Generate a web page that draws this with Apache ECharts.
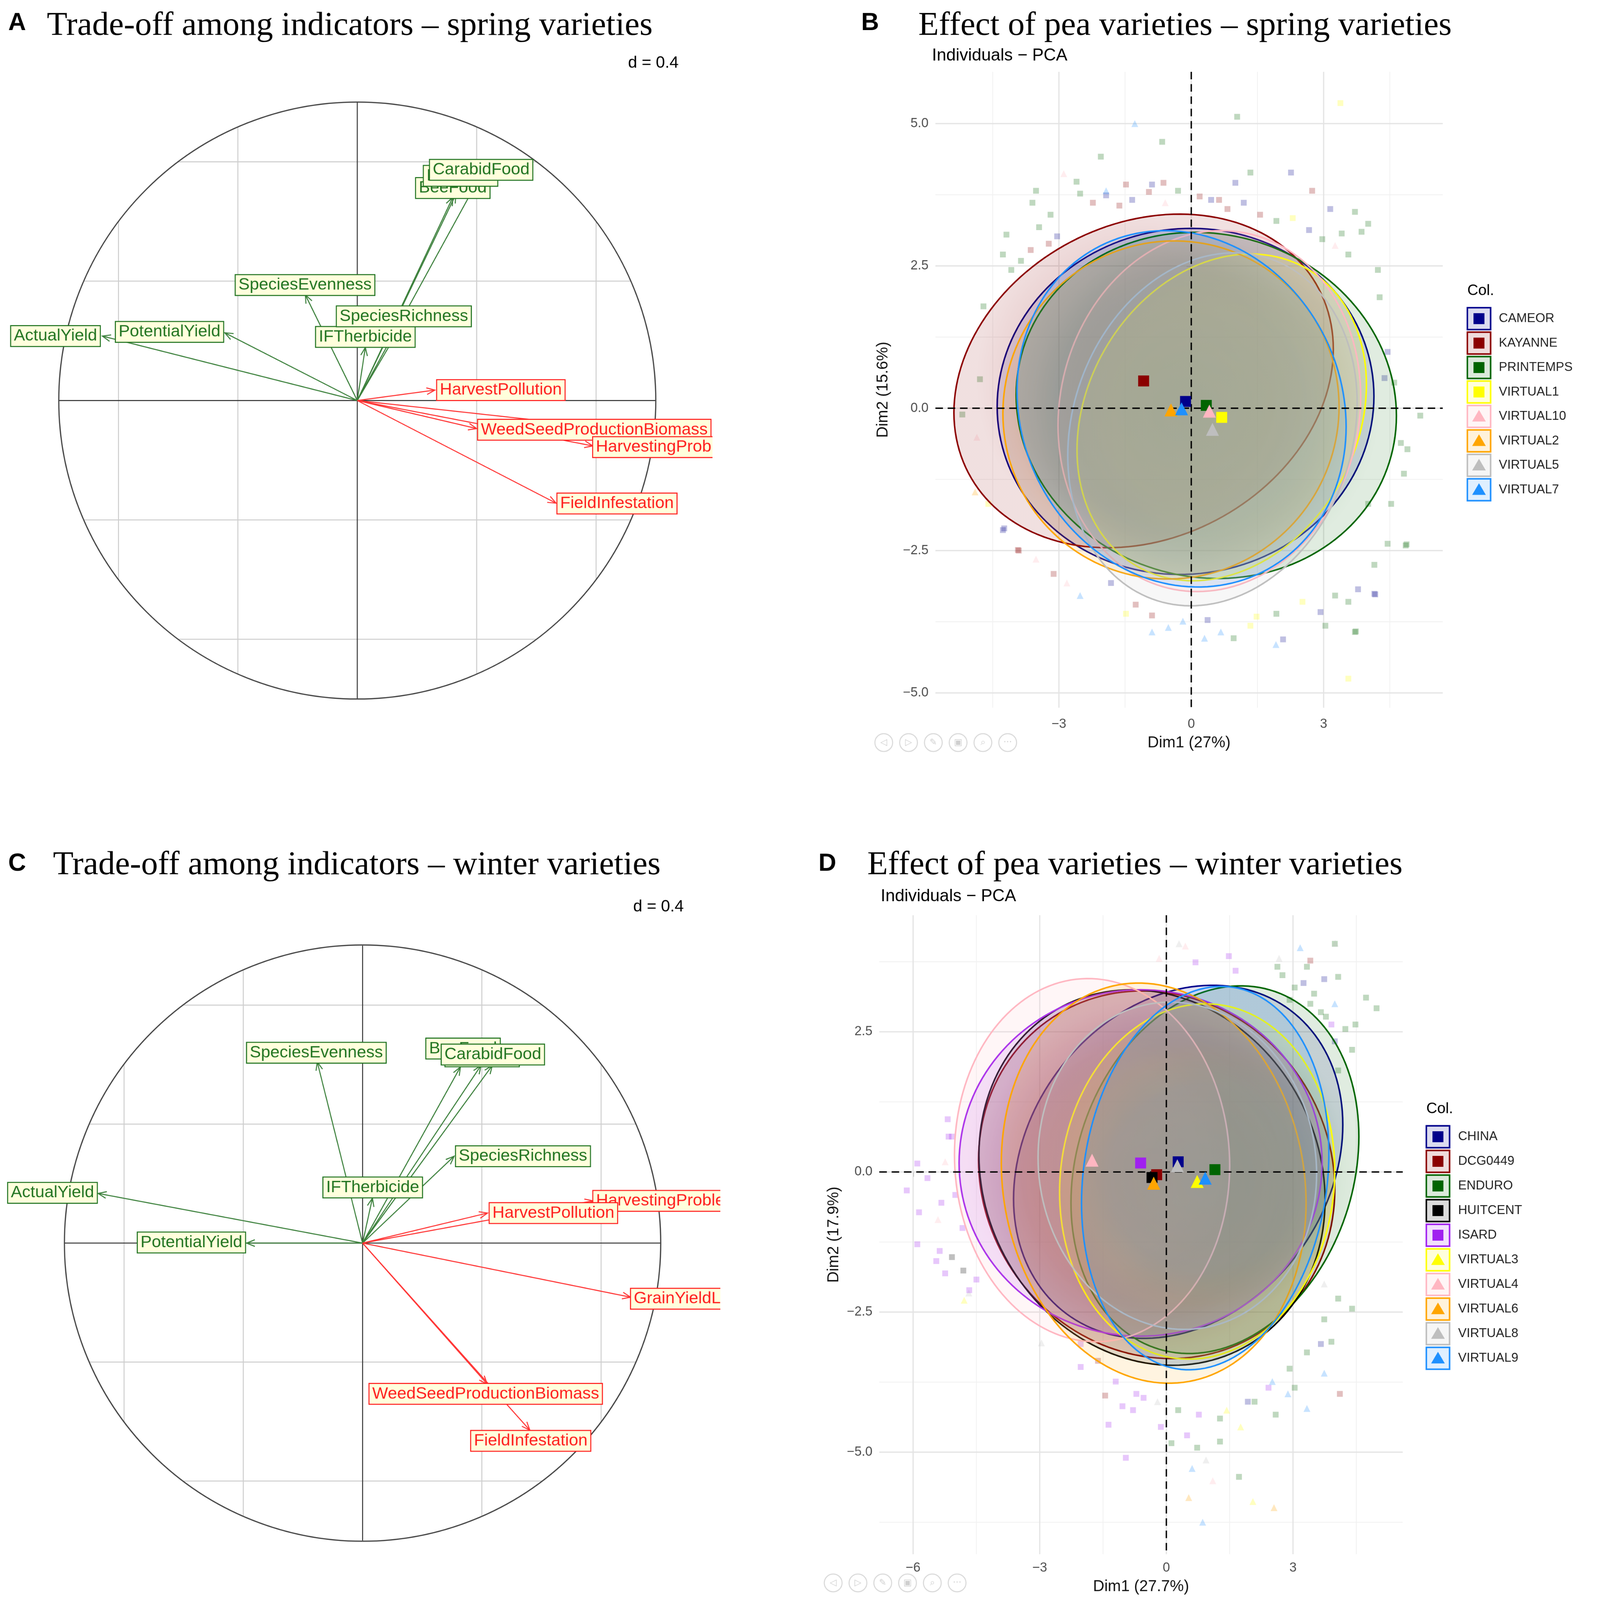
<!DOCTYPE html>
<html><head><meta charset="utf-8">
<script src="https://cdn.jsdelivr.net/npm/echarts@6/dist/echarts.min.js"></script>
<style>html,body{margin:0;padding:0;background:#fff;overflow:hidden}#c{width:4620px;height:4680px;transform-origin:0 0}</style>
</head><body><div id="c"></div>
<script>
// ================= DATA =================
// ---- Panel A: correlation circle, spring varieties ----
const varsA   = ['ActualYield','PotentialYield','SpeciesEvenness','IFTherbicide','SpeciesRichness','BeeFood','BirdFood','CarabidFood','HarvestPollution','GrainYieldLoss','WeedSeedProductionBiomass','HarvestingProblems','FieldInfestation'];
const typeA   = ['g','g','g','g','g','g','g','g','r','r','r','r','r'];
const tipXA   = [-0.854,-0.444,-0.174,0.027,0.148,0.320,0.330,0.400,0.260,0.740,0.400,0.789,0.666];
const tipYA   = [ 0.216, 0.227, 0.354,0.178,0.252,0.681,0.690,0.730,0.035,-0.081,-0.094,-0.152,-0.344];
const labXA   = [-1.011,-0.629,-0.175,0.027,0.156,0.320,0.346,0.415,0.481,0.800,0.794,1.052,0.870];
const labYA   = [ 0.216, 0.230, 0.387,0.213,0.282,0.712,0.753,0.773,0.035,-0.098,-0.098,-0.156,-0.345];

// ---- Panel C: correlation circle, winter varieties ----
const varsC   = ['ActualYield','PotentialYield','SpeciesEvenness','IFTherbicide','SpeciesRichness','BeeFood','BirdFood','CarabidFood','HarvestingProblems','HarvestPollution','GrainYieldLoss','WeedSeedProductionBiomass','FieldInfestation'];
const typeC   = ['g','g','g','g','g','g','g','g','r','r','r','r','r'];
const tipXC   = [-0.887,-0.389,-0.152,0.033,0.307,0.328,0.397,0.435,0.773,0.419,0.899,0.418,0.561];
const tipYC   = [ 0.167, 0.000, 0.609,0.151,0.292,0.592,0.597,0.597,0.142,0.101,-0.182,-0.474,-0.629];
const labXC   = [-1.040,-0.574,-0.155,0.034,0.538,0.337,0.401,0.437,1.036,0.640,1.099,0.413,0.564];
const labYC   = [ 0.169, 0.002, 0.640,0.187,0.292,0.654,0.628,0.634,0.142,0.101,-0.187,-0.507,-0.665];
const circleGrid = [-0.8,-0.4,0.4,0.8];

// ---- Panel B: individuals PCA, spring varieties ----
const groupsB = ['CAMEOR','KAYANNE','PRINTEMPS','VIRTUAL1','VIRTUAL10','VIRTUAL2','VIRTUAL5','VIRTUAL7'];
const colorsB = ['#00008B','#8B0000','#006400','#FFFF00','#FFB6C1','#FFA500','#BEBEBE','#1E90FF'];
const shapesB = ['rect','rect','rect','rect','triangle','triangle','triangle','triangle'];
const meanXB  = [-0.13,-1.08,0.34,0.69,0.41,-0.46,0.48,-0.22];
const meanYB  = [ 0.12, 0.48,0.05,-0.16,-0.05,-0.03,-0.37,-0.01];
const ellSXB  = [4.27,4.30,4.31,3.28,3.43,3.81,3.28,3.73];
const ellSYB  = [3.04,2.93,3.04,2.87,3.17,2.97,3.10,3.13];
const ellRhoB = [0.03,0.19,-0.06,0.20,0.08,0.02,0.15,-0.10];
const ptsXB = [-2.89,-2.60,-3.52,-3.60,-3.19,-1.93,-1.48,-0.89,-0.63,0.19,0.63,1.00,1.34,2.26,2.74,3.15,3.71,4.01,3.41,3.86,-4.19,-4.27,-4.08,-4.71,-4.79,-5.19,-4.86,-4.90,-4.27,-3.93,-3.52,4.27,4.38,5.19,4.90,4.45,4.86,4.01,4.15,3.56,-1.82,-1.26,-0.89,-0.52,-0.19,0.37,0.67,0.96,1.48,2.08,2.93,3.04,3.71,3.38,1.04,-1.28,-0.66,-2.05,3.56,4.88,-3.91,-4.24,4.17,3.73,1.92,
  -3.86,-3.64,-3.45,-3.23,-3.04,-2.52,-2.23,-1.93,-1.63,-1.34,-0.96,-0.59,-0.30,0.45,0.82,1.19,1.56,1.93,2.30,2.67,2.97,3.26,3.56,4.23,4.45,4.60,4.75,4.82,4.53,-4.60,-3.12,-2.82,-2.52,-1.48,-0.89,0.30,1.34,1.93,2.52,3.26,3.78,4.15];
const ptsYB = [4.12,3.98,3.82,3.61,3.40,3.74,3.93,3.93,3.96,3.72,3.66,3.96,4.14,4.14,3.82,3.50,3.45,3.24,3.07,3.10,3.05,2.70,2.43,1.79,0.51,-0.11,-0.51,-1.47,-2.14,-2.49,-2.65,1.95,0.53,-0.13,-0.72,-2.38,-2.41,-1.68,-3.26,-3.40,-3.07,-3.45,-3.64,-3.85,-3.74,-3.72,-3.93,-4.04,-3.66,-4.06,-3.58,-3.82,-3.93,5.36,5.12,5.00,4.68,4.42,-4.75,-2.39,-2.50,-2.11,-3.27,-3.92,-4.15,
  2.59,2.78,3.18,2.89,3.02,3.77,3.61,3.82,3.56,3.66,3.80,3.61,3.82,3.66,3.50,3.61,3.40,3.29,3.34,3.13,2.97,2.86,2.70,2.43,0.99,0.45,-0.61,-1.15,-1.68,-1.68,-2.91,-3.07,-3.29,-3.61,-3.93,-4.04,-3.82,-3.61,-3.40,-3.29,-3.18,-2.75];
const ptsGB = [4,2,2,2,2,0,1,0,1,1,1,0,2,0,1,0,2,2,2,2,2,2,2,2,2,2,4,5,0,1,4,2,0,2,2,2,2,2,0,2,0,1,1,7,7,0,7,2,3,0,0,2,2,3,2,7,2,2,3,2,1,0,0,2,7,
  2,1,2,1,0,2,1,7,1,0,1,4,2,0,1,0,1,2,3,0,2,4,2,2,0,2,2,2,2,3,1,4,7,3,7,7,3,2,3,2,0,2];

// ---- Panel D: individuals PCA, winter varieties ----
const groupsD = ['CHINA','DCG0449','ENDURO','HUITCENT','ISARD','VIRTUAL3','VIRTUAL4','VIRTUAL6','VIRTUAL8','VIRTUAL9'];
const colorsD = ['#00008B','#8B0000','#006400','#000000','#A020F0','#FFFF00','#FFB6C1','#FFA500','#BEBEBE','#1E90FF'];
const shapesD = ['rect','rect','rect','rect','rect','triangle','triangle','triangle','triangle','triangle'];
const meanXD  = [0.28,-0.23,1.15,-0.34,-0.61,0.73,-1.76,-0.30,0.26,0.92];
const meanYD  = [0.18,-0.05,0.04,-0.10,0.16,-0.17,0.21,-0.20,0.11,-0.11];
const ellSXD  = [3.90,4.22,3.41,4.10,4.30,3.26,3.26,3.61,3.30,2.93];
const ellSYD  = [3.15,3.28,3.28,3.35,3.09,3.17,3.24,3.57,2.92,3.42];
const ellRhoD = [0.21,-0.08,0.18,-0.12,0.00,0.06,-0.03,-0.10,-0.05,0.13];
const ptsXD = [0.30,0.45,-0.17,0.69,1.48,1.64,2.63,3.17,3.41,3.74,3.99,4.07,3.04,3.41,3.78,4.48,4.73,4.98,3.91,4.07,-5.18,-5.16,-5.90,-6.15,-5.86,-5.41,-5.90,-5.37,-5.45,-5.24,-4.81,-4.68,-4.79,-4.50,-2.96,-2.03,-1.45,-1.04,-0.79,-1.37,-0.54,-0.13,0.12,0.49,0.73,0.94,0.61,1.10,1.27,1.72,1.43,1.93,2.42,2.59,2.88,3.04,3.33,4.11,3.74,3.66,3.91,4.40,3.74,2.05,2.55,0.86,0.53,-0.96,4.00,
  2.75,2.92,3.25,3.50,3.66,3.99,4.24,4.40,2.67,3.33,3.99,-5.08,-5.24,-5.00,-4.83,-5.33,-5.66,-5.08,-4.67,-2.03,-1.62,-1.20,-0.71,-0.21,0.28,0.77,1.27,1.76,2.09,2.51,2.92,3.33,3.74,4.07];
const ptsYD = [4.07,4.03,3.81,3.74,3.85,3.59,3.66,4.00,3.77,3.44,4.07,3.48,3.29,3.00,2.77,2.63,3.11,2.92,2.63,1.81,0.94,0.63,0.15,-0.33,-0.72,-0.85,-1.29,-1.41,-1.59,-1.81,-1.76,-2.16,-2.29,-1.92,-3.05,-3.48,-3.99,-4.18,-4.25,-4.51,-4.03,-4.55,-4.84,-4.70,-4.92,-5.14,-5.29,-5.51,-4.81,-5.44,-4.25,-4.10,-3.85,-4.33,-3.96,-3.85,-4.22,-3.96,-3.59,-3.07,-3.03,-2.44,-2.00,-5.88,-5.99,-6.25,-5.81,-5.10,4.08,
  3.51,3.07,3.37,3.18,2.85,3.00,2.55,2.18,3.81,3.66,2.33,0.63,0.18,-0.41,-1.00,-0.55,-0.11,-1.52,-2.11,-3.07,-3.37,-3.74,-3.96,-4.10,-4.25,-4.33,-4.40,-4.55,-4.10,-3.74,-3.51,-3.22,-2.63,-2.26];
const ptsGD = [8,6,6,4,4,4,2,9,1,0,2,2,2,2,2,2,2,2,4,2,4,4,4,4,4,6,4,4,4,4,3,8,5,4,8,4,1,4,4,4,4,4,2,4,2,8,9,6,2,2,5,0,4,2,9,2,9,1,9,0,2,2,8,5,7,9,7,4,8,
  2,2,0,2,2,9,2,2,8,2,0,4,6,4,4,4,4,3,4,4,1,4,4,8,2,4,2,5,2,9,2,2,2,2];

// axis ticks (B, D)
const xTicksB = [-3,0,3], yTicksB = [-5,-2.5,0,2.5,5];
const xMinorB = [-4.5,-1.5,1.5,4.5], yMinorB = [-3.75,-1.25,1.25,3.75];
const xTicksD = [-6,-3,0,3], yTicksD = [-5,-2.5,0,2.5];
const xMinorD = [-4.5,-1.5,1.5,4.5], yMinorD = [-6.25,-3.75,-1.25,1.25,3.75];

// ================= STYLE =================
const SANS = 'Liberation Sans', SERIF = 'Liberation Serif';
const G_LINE = '#3B803B', G_TXT = '#237523', R_LINE = '#FF3333', R_TXT = '#FF1F1F';
function rgba(hex, a){const n=parseInt(hex.slice(1),16);return `rgba(${n>>16&255},${n>>8&255},${n&255},${a})`;}
const minus = s => String(s).replace('-', '\u2212');

// ================= SERIES BUILDERS =================
function circleFrame(ai){
  const data = circleGrid.map(v=>[v,0,0]); data.push([0,0,1]);
  return {type:'custom', coordinateSystem:'cartesian2d', xAxisIndex:ai, yAxisIndex:ai, z:1, silent:true,
    encode:{x:0,y:1}, data,
    renderItem(params, api){
      const v = api.value(0);
      if (api.value(2) === 0){
        const h = Math.sqrt(1 - v*v);
        const a1 = api.coord([v,-h]), a2 = api.coord([v,h]);
        const b1 = api.coord([-h,v]), b2 = api.coord([h,v]);
        return {type:'group', children:[
          {type:'line', shape:{x1:a1[0],y1:a1[1],x2:a2[0],y2:a2[1]}, style:{stroke:'#CFCFCF',lineWidth:3}},
          {type:'line', shape:{x1:b1[0],y1:b1[1],x2:b2[0],y2:b2[1]}, style:{stroke:'#CFCFCF',lineWidth:3}}]};
      }
      const o = api.coord([0,0]), r = api.size([1,0])[0];
      const l = api.coord([-1,0]), rr = api.coord([1,0]), t = api.coord([0,1]), b = api.coord([0,-1]);
      return {type:'group', children:[
        {type:'line', shape:{x1:l[0],y1:l[1],x2:rr[0],y2:rr[1]}, style:{stroke:'#3A3A3A',lineWidth:3}},
        {type:'line', shape:{x1:t[0],y1:t[1],x2:b[0],y2:b[1]}, style:{stroke:'#3A3A3A',lineWidth:3}},
        {type:'circle', shape:{cx:o[0],cy:o[1],r:r}, style:{stroke:'#444',lineWidth:3.5,fill:null}}]};
    }};
}
function arrowSeries(ai, names, tx, ty, tp){
  return {type:'custom', coordinateSystem:'cartesian2d', xAxisIndex:ai, yAxisIndex:ai, z:2, silent:true,
    encode:{x:0,y:1}, data: names.map((n,i)=>[tx[i],ty[i]]),
    renderItem(params, api){
      const i = params.dataIndex, col = tp[i]==='g' ? G_LINE : R_LINE;
      const o = api.coord([0,0]), t = api.coord([api.value(0),api.value(1)]);
      const ang = Math.atan2(t[1]-o[1], t[0]-o[0]), L = 26, a = 22*Math.PI/180;
      const h1=[t[0]-L*Math.cos(ang-a), t[1]-L*Math.sin(ang-a)], h2=[t[0]-L*Math.cos(ang+a), t[1]-L*Math.sin(ang+a)];
      return {type:'group', children:[
        {type:'line', shape:{x1:o[0],y1:o[1],x2:t[0],y2:t[1]}, style:{stroke:col,lineWidth:3}},
        {type:'polyline', shape:{points:[h1,t,h2]}, style:{stroke:col,lineWidth:3,fill:null}}]};
    }};
}
function labelSeries(ai, names, lx, ly, tp){
  return {type:'custom', coordinateSystem:'cartesian2d', xAxisIndex:ai, yAxisIndex:ai, z:3, silent:true, clip:true,
    encode:{x:0,y:1}, data: names.map((n,i)=>[lx[i],ly[i]]),
    renderItem(params, api){
      const i = params.dataIndex, c = tp[i]==='g' ? G_TXT : R_TXT;
      const p = api.coord([api.value(0),api.value(1)]);
      return {type:'text', x:p[0], y:p[1], style:{text:names[i], fill:c, fontSize:49, fontFamily:SANS,
        align:'center', verticalAlign:'middle', backgroundColor:'#FFFFDC', borderColor:c, borderWidth:3,
        padding:[4,8,2,8], lineHeight:52}};
    }};
}
function gridLines(ai, xs, ys, xm, ym){
  const data = [];
  xm.forEach(v=>data.push([v,0,1])); ym.forEach(v=>data.push([0,v,3]));
  xs.forEach(v=>data.push([v,0,0])); ys.forEach(v=>data.push([0,v,2]));
  return {type:'custom', coordinateSystem:'cartesian2d', xAxisIndex:ai, yAxisIndex:ai, z:1, silent:true,
    encode:{x:0,y:1}, data,
    renderItem(params, api){
      const cs = params.coordSys, k = api.value(2);
      const major = (k===0||k===2);
      const st = {stroke: major ? '#E4E4E4' : '#F1F1F1', lineWidth: major ? 3.5 : 2.2};
      if (k<2){ const x = api.coord([api.value(0),0])[0];
        return {type:'line', shape:{x1:x,y1:cs.y,x2:x,y2:cs.y+cs.height}, style:st}; }
      const y = api.coord([0,api.value(1)])[1];
      return {type:'line', shape:{x1:cs.x,y1:y,x2:cs.x+cs.width,y2:y}, style:st};
    }};
}
function dashLines(ai){
  return {type:'custom', coordinateSystem:'cartesian2d', xAxisIndex:ai, yAxisIndex:ai, z:4, silent:true,
    encode:{x:0,y:1}, data:[[0,0]],
    renderItem(params, api){
      const cs = params.coordSys, o = api.coord([0,0]);
      const st = {stroke:'#000', lineWidth:4, lineDash:[22,14]};
      return {type:'group', children:[
        {type:'line', shape:{x1:o[0],y1:cs.y,x2:o[0],y2:cs.y+cs.height}, style:st},
        {type:'line', shape:{x1:cs.x,y1:o[1],x2:cs.x+cs.width,y2:o[1]}, style:st}]};
    }};
}
function ellipseSeries(ai, mx, my, sx, sy, rho, colors){
  return {type:'custom', coordinateSystem:'cartesian2d', xAxisIndex:ai, yAxisIndex:ai, z:3, silent:true,
    encode:{x:0,y:1}, data: mx.map((v,i)=>[v,my[i],sx[i],sy[i],rho[i]]),
    renderItem(params, api){
      const i = params.dataIndex;
      const cx=api.value(0), cy=api.value(1), a=api.value(2), b=api.value(3), r=api.value(4), q=Math.sqrt(1-r*r);
      const pts=[];
      for(let j=0;j<160;j++){const t=j/160*2*Math.PI; pts.push(api.coord([cx+a*Math.cos(t), cy+b*(r*Math.cos(t)+q*Math.sin(t))]));}
      const fill = {type:'radial', x:0.5, y:0.5, r:0.5, colorStops:[
        {offset:0, color:rgba(colors[i],0.21)}, {offset:0.75, color:rgba(colors[i],0.18)}, {offset:1, color:rgba(colors[i],0.12)}]};
      return {type:'polygon', shape:{points:pts}, style:{fill, stroke:colors[i], lineWidth:4.5}};
    }};
}
function pointSeries(ai, px, py, pg, colors, shapes){
  return {type:'scatter', xAxisIndex:ai, yAxisIndex:ai, z:2, silent:true,
    data: px.map((v,i)=>[v,py[i],pg[i]]),
    symbol: v=>shapes[v[2]], symbolSize: v=>shapes[v[2]]==='rect'?17:20,
    itemStyle:{color:p=>colors[p.value[2]], opacity:0.25}};
}
function meanSeries(ai, mx, my, colors, shapes){
  return {type:'scatter', xAxisIndex:ai, yAxisIndex:ai, z:5, silent:true,
    data: mx.map((v,i)=>[v,my[i],i]),
    symbol: v=>shapes[v[2]], symbolSize: v=>shapes[v[2]]==='rect'?32:38,
    itemStyle:{color:p=>colors[p.value[2]], opacity:1}};
}
function pcaXAxis(gi, min, max, ticks, name, margin){
  return {gridIndex:gi, type:'value', min, max, axisLine:{show:false}, splitLine:{show:false},
    axisTick:{show:true, customValues:ticks, length:14, lineStyle:{color:'#333',width:3}},
    axisLabel:{customValues:ticks, formatter:v=>minus(v), color:'#4D4D4D', fontSize:38, fontFamily:SANS, margin},
    name, nameLocation:'middle', nameGap:margin+50, nameTextStyle:{fontSize:46, color:'#111', fontFamily:SANS}};
}
function pcaYAxis(gi, min, max, ticks, name, gap){
  return {gridIndex:gi, type:'value', min, max, axisLine:{show:false}, splitLine:{show:false},
    axisTick:{show:true, customValues:ticks, length:14, lineStyle:{color:'#333',width:3}},
    axisLabel:{customValues:ticks, formatter:v=>minus(Number(v).toFixed(1)), color:'#4D4D4D', fontSize:38, fontFamily:SANS, margin:20},
    name, nameLocation:'middle', nameRotate:90, nameGap:gap, nameTextStyle:{fontSize:46, color:'#111', fontFamily:SANS}};
}
function hiddenAxis(gi, min, max){
  return {gridIndex:gi, type:'value', min, max, show:false, splitLine:{show:false}};
}

// ================= GRAPHIC (titles, legends) =================
const graphic = [];
function txt(x,y,text,font,opts){graphic.push(Object.assign({type:'text', x, y, silent:true,
  style:Object.assign({text, fill:'#000', font, verticalAlign:'middle', align:'left'}, opts||{})}));}
txt(24,68,'A','bold 72px "Liberation Sans"');
txt(137,76,'Trade-off among indicators \u2013 spring varieties','98px "Liberation Serif"');
txt(1985,185,'d = 0.4','48px "Liberation Sans"',{align:'right'});
txt(24,2527,'C','bold 72px "Liberation Sans"');
txt(155,2531,'Trade-off among indicators \u2013 winter varieties','98px "Liberation Serif"');
txt(2000,2653,'d = 0.4','48px "Liberation Sans"',{align:'right'});
txt(2519,68,'B','bold 72px "Liberation Sans"');
txt(2686,76,'Effect of pea varieties \u2013 spring varieties','98px "Liberation Serif"');
txt(2726,163,'Individuals \u2212 PCA','50px "Liberation Sans"');
txt(2394,2527,'D','bold 72px "Liberation Sans"');
txt(2537,2531,'Effect of pea varieties \u2013 winter varieties','98px "Liberation Serif"');
txt(2576,2622,'Individuals \u2212 PCA','50px "Liberation Sans"');

function legend(x0, yTitle, y0, step, textX, groups, colors, shapes){
  txt(x0, yTitle, 'Col.', '44px "Liberation Sans"');
  groups.forEach((g,i)=>{
    const yc = y0 + i*step, cx = x0+34;
    graphic.push({type:'rect', silent:true, shape:{x:x0, y:yc-32, width:68, height:64},
      style:{fill:rgba(colors[i],0.14), stroke:colors[i], lineWidth:4.5}});
    if (shapes[i]==='rect') graphic.push({type:'rect', silent:true, shape:{x:cx-16,y:yc-16,width:32,height:32}, style:{fill:colors[i]}});
    else graphic.push({type:'polygon', silent:true, shape:{points:[[cx,yc-19],[cx+20,yc+15],[cx-20,yc+15]]}, style:{fill:colors[i]}});
    txt(textX, yc, g, '37px "Liberation Sans"', {fill:'#222'});
  });
}
legend(4292, 851, 932, 71.5, 4384, groupsB, colorsB, shapesB);
legend(4172, 3244, 3325, 72, 4265, groupsD, colorsD, shapesD);

function toolbar(x0, y){
  const glyphs = ['\u25C1','\u25B7','\u270E','\u25A3','\u2315','\u00B7\u00B7\u00B7'];
  glyphs.forEach((gl,i)=>{
    const x = x0 + i*72.5;
    graphic.push({type:'circle', silent:true, shape:{cx:x, cy:y, r:26}, style:{fill:null, stroke:'#D9D9D9', lineWidth:3}});
    graphic.push({type:'text', silent:true, x, y, style:{text:gl, font:'26px "DejaVu Sans"', fill:'#CFCFCF', align:'center', verticalAlign:'middle'}});
  });
}
toolbar(2585, 2172);
toolbar(2437, 4630);

// ================= OPTION =================
const option = {
  animation:false, backgroundColor:'#fff',
  grid:[
    {left:6,    top:124,  width:2078, height:2095},
    {left:2736, top:210,  width:1484, height:1860},
    {left:14,   top:2592, width:2093, height:2093},
    {left:2572, top:2677, width:1531, height:1869}
  ],
  xAxis:[ hiddenAxis(0,-1.19,1.19), pcaXAxis(1,-5.8,5.7,xTicksB,'Dim1 (27%)',30),
          hiddenAxis(2,-1.2,1.2),  pcaXAxis(3,-6.8,5.6,xTicksD,'Dim1 (27.7%)',22) ],
  yAxis:[ hiddenAxis(0,-1.2,1.2), pcaYAxis(1,-5.26,5.91,yTicksB,'Dim2 (15.6%)',130),
          hiddenAxis(2,-1.2,1.2), pcaYAxis(3,-6.82,4.58,yTicksD,'Dim2 (17.9%)',110) ],
  graphic,
  series:[
    circleFrame(0), arrowSeries(0,varsA,tipXA,tipYA,typeA), labelSeries(0,varsA,labXA,labYA,typeA),
    circleFrame(2), arrowSeries(2,varsC,tipXC,tipYC,typeC), labelSeries(2,varsC,labXC,labYC,typeC),
    gridLines(1,xTicksB,yTicksB,xMinorB,yMinorB), pointSeries(1,ptsXB,ptsYB,ptsGB,colorsB,shapesB),
    ellipseSeries(1,meanXB,meanYB,ellSXB,ellSYB,ellRhoB,colorsB), dashLines(1), meanSeries(1,meanXB,meanYB,colorsB,shapesB),
    gridLines(3,xTicksD,yTicksD,xMinorD,yMinorD), pointSeries(3,ptsXD,ptsYD,ptsGD,colorsD,shapesD),
    ellipseSeries(3,meanXD,meanYD,ellSXD,ellSYD,ellRhoD,colorsD), dashLines(3), meanSeries(3,meanXD,meanYD,colorsD,shapesD)
  ]
};
// fit the 4620x4680 design into the actual viewport
const el = document.getElementById('c');
const s = Math.min(window.innerWidth/4620, window.innerHeight/4680);
if (s > 0 && Math.abs(s-1) > 0.001) el.style.transform = 'scale(' + s + ')';
const chart = echarts.init(el, null, {renderer:'canvas', width:4620, height:4680});
chart.setOption(option);
</script></body></html>
